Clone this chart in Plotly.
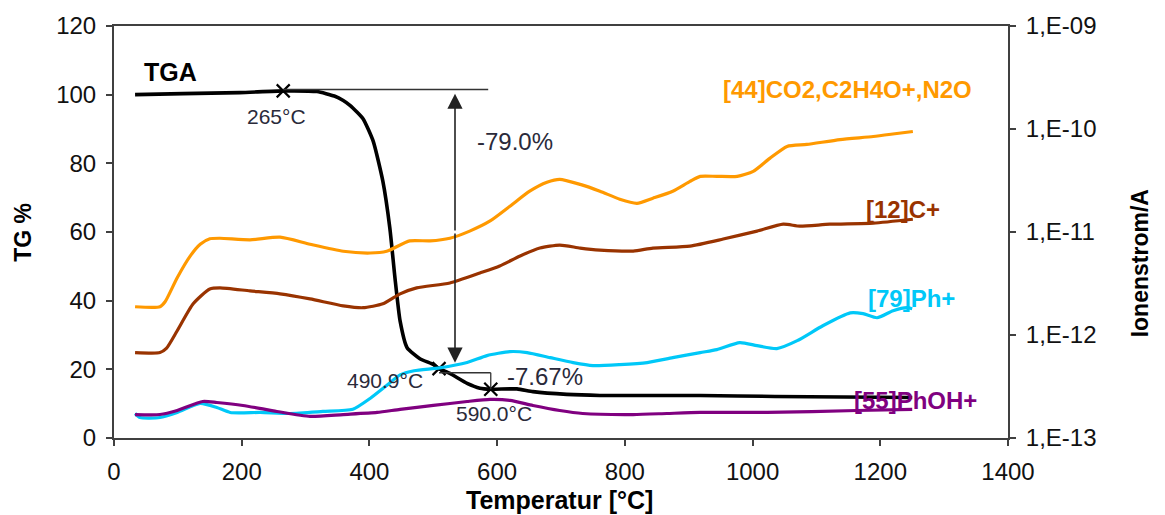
import plotly.graph_objects as go

# ---------------- data ----------------
TGA_T = [33, 108, 197, 265, 318, 345, 359, 370, 390, 406, 421, 432, 440, 448, 459, 479,
         500, 509, 526, 553, 573, 590, 631, 656, 709, 761, 918, 1035, 1250]
TGA_V = [100.0, 100.3, 100.6, 101.1, 100.9, 99.6, 98.3, 96.8, 93.0, 86.4, 74.8, 61.1, 46.6,
         34.1, 26.3, 23.1, 21.4, 20.2, 18.8, 15.9, 14.5, 14.2, 14.3, 13.5, 12.7, 12.4,
         12.4, 12.1, 11.8]

CO2_T = [33, 72, 80, 99, 119, 135, 150, 166, 213, 260, 307, 359, 401, 427, 463, 495, 526,
         557, 589, 620, 651, 678, 698, 730, 761, 792, 819, 844, 875, 902, 918, 944,
         976, 1001, 1027, 1054, 1085, 1137, 1189, 1226, 1251]
CO2_V = [1.88e-12, 1.88e-12, 2.1e-12, 3.6e-12, 5.8e-12, 7.6e-12, 8.6e-12, 8.7e-12, 8.4e-12,
         8.9e-12, 7.6e-12, 6.5e-12, 6.25e-12, 6.5e-12, 8.2e-12, 8.2e-12, 8.7e-12,
         1.02e-11, 1.28e-11, 1.78e-11, 2.49e-11, 3.04e-11, 3.25e-11, 2.9e-11,
         2.49e-11, 2.08e-11, 1.9e-11, 2.13e-11, 2.49e-11, 3.1e-11, 3.47e-11,
         3.47e-11, 3.47e-11, 3.88e-11, 5.19e-11, 6.78e-11, 7.08e-11, 7.9e-11,
         8.45e-11, 9.04e-11, 9.46e-11]

C12_T = [33, 72, 82, 99, 124, 150, 166, 213, 260, 307, 359, 390, 421, 448, 474, 526, 573,
         604, 636, 667, 698, 730, 761, 813, 844, 902, 954, 1007, 1048, 1074, 1121,
         1189, 1251]
C12_V = [6.75e-13, 6.75e-13, 7.4e-13, 1.1e-12, 2.01e-12, 2.8e-12, 2.87e-12, 2.68e-12,
         2.51e-12, 2.24e-12, 1.92e-12, 1.84e-12, 2.01e-12, 2.51e-12, 2.87e-12, 3.2e-12,
         4.0e-12, 4.68e-12, 5.85e-12, 6.98e-12, 7.46e-12, 6.98e-12, 6.68e-12, 6.53e-12,
         6.98e-12, 7.3e-12, 8.54e-12, 1.02e-11, 1.19e-11, 1.14e-11, 1.19e-11,
         1.22e-11, 1.33e-11]

PH_T = [33, 41, 72, 99, 135, 161, 182, 229, 276, 327, 374, 401, 427, 448, 470, 510, 553,
        584, 620, 647, 683, 719, 750, 792, 835, 875, 918, 944, 980, 1007, 1038, 1070,
        1110, 1153, 1173, 1195, 1220, 1242, 1250]
PH_V = [1.73e-13, 1.58e-13, 1.58e-13, 1.77e-13, 2.17e-13, 1.98e-13, 1.77e-13, 1.77e-13,
        1.73e-13, 1.81e-13, 1.9e-13, 2.42e-13, 3.24e-13, 4.1e-13, 4.5e-13, 4.8e-13,
        5.4e-13, 6.31e-13, 6.9e-13, 6.75e-13, 6.03e-13, 5.4e-13, 5.05e-13, 5.16e-13,
        5.4e-13, 6.03e-13, 6.75e-13, 7.21e-13, 8.43e-13, 7.88e-13, 7.38e-13, 8.81e-13,
        1.23e-12, 1.64e-12, 1.61e-12, 1.47e-12, 1.72e-12, 1.84e-12, 1.8e-12]

PHOH_T = [33, 72, 99, 139, 161, 202, 255, 307, 359, 412, 448, 500, 553, 589, 620, 656,
          698, 734, 813, 866, 918, 1023, 1163, 1250]
PHOH_V = [1.69e-13, 1.69e-13, 1.85e-13, 2.26e-13, 2.21e-13, 2.07e-13, 1.81e-13,
          1.62e-13, 1.69e-13, 1.77e-13, 1.9e-13, 2.07e-13, 2.26e-13, 2.37e-13,
          2.32e-13, 2.07e-13, 1.85e-13, 1.73e-13, 1.69e-13, 1.73e-13, 1.77e-13,
          1.77e-13, 1.85e-13, 1.9e-13]

X_TICKS = [0, 200, 400, 600, 800, 1000, 1200, 1400]
Y_TICKS = [0, 20, 40, 60, 80, 100, 120]
Y2_TICKS = [1e-13, 1e-12, 1e-11, 1e-10, 1e-9]
Y2_TICKTEXT = ["1,E-13", "1,E-12", "1,E-11", "1,E-10", "1,E-09"]

# evaluation marks (onset / step points)
CROSS_T = [265, 509, 590]
CROSS_TG = [101.1, 20.2, 14.2]
CROSS_LABELS = ["265°C", "490.9°C", "590.0°C"]
STEP1_TEXT = "-79.0%"
STEP2_TEXT = "-7.67%"

SERIES = [
    ("[44]CO2,C2H4O+,N2O", CO2_T, CO2_V, "#FF9900"),
    ("[12]C+", C12_T, C12_V, "#993300"),
    ("[79]Ph+", PH_T, PH_V, "#00C8F8"),
    ("[55]PhOH+", PHOH_T, PHOH_V, "#800080"),
]

FONT = "Liberation Sans, Arial, sans-serif"

fig = go.Figure()
for name, t, v, col in SERIES:
    fig.add_trace(go.Scatter(x=t, y=v, yaxis="y2", mode="lines", name=name,
                             line=dict(color=col, width=3.2, shape="spline", smoothing=0.6)))

fig.add_trace(go.Scatter(x=TGA_T, y=TGA_V, mode="lines", name="TGA",
                         line=dict(color="black", width=3.6, shape="spline", smoothing=0.5)))

fig.add_trace(go.Scatter(x=CROSS_T, y=CROSS_TG, mode="markers",
                         marker=dict(symbol="x-thin", size=13, line=dict(color="black", width=2.2))))

# thin evaluation lines
line_style = dict(color="#333333", width=1.3)
fig.add_shape(type="line", x0=CROSS_T[0], x1=586, y0=CROSS_TG[0] + 0.4, y1=CROSS_TG[0] + 0.4,
              xref="x", yref="y", line=line_style)
fig.add_shape(type="line", x0=CROSS_T[1], x1=CROSS_T[2], y0=19.0, y1=19.0,
              xref="x", yref="y", line=line_style)
fig.add_shape(type="line", x0=CROSS_T[2], x1=CROSS_T[2], y0=19.0, y1=CROSS_TG[2],
              xref="x", yref="y", line=line_style)

annotations = []
# double arrow for -79%
for (ya, yb) in [(100.3, 60), (21.9, 60)]:
    annotations.append(dict(x=534, y=ya, ax=534, ay=yb, xref="x", yref="y", axref="x", ayref="y",
                            text="", showarrow=True, arrowhead=2, arrowsize=1.9, arrowwidth=1.6,
                            arrowcolor="#222222"))

txt_font = dict(family=FONT, size=21, color="#2a2a3a")
big_font = dict(family=FONT, size=24, color="#2a2a3a")
annotations += [
    dict(x=255, y=93.5, text=CROSS_LABELS[0], showarrow=False, font=txt_font),
    dict(x=424, y=16.7, text=CROSS_LABELS[1], showarrow=False, font=txt_font),
    dict(x=595, y=7.2, text=CROSS_LABELS[2], showarrow=False, font=txt_font),
    dict(x=628, y=86.3, text=STEP1_TEXT, showarrow=False, font=big_font),
    dict(x=675, y=17.9, text=STEP2_TEXT, showarrow=False, font=big_font),
    dict(x=88, y=106.6, text="<b>TGA</b>", showarrow=False, font=dict(family=FONT, size=25, color="black")),
]
label_pos = [(950, 101.6), (1175, 66.6), (1177, 40.5), (1156, 10.9)]
for (name, t, v, col), (lx, ly) in zip(SERIES, label_pos):
    annotations.append(dict(x=lx, y=ly, text="<b>" + name + "</b>", showarrow=False, xanchor="left",
                            font=dict(family=FONT, size=24, color=col)))

# axis titles
annotations += [
    dict(x=-0.102, y=0.5, xref="paper", yref="paper", text="<b>TG %</b>", textangle=-90,
         xanchor="center", yanchor="middle",
         showarrow=False, font=dict(family=FONT, size=23, color="black")),
    dict(x=1.1477, y=0.424, xref="paper", yref="paper", text="<b>Ionenstrom/A</b>", textangle=-90,
         xanchor="center", yanchor="middle",
         showarrow=False, font=dict(family=FONT, size=23, color="black")),
    dict(x=0.498, y=-0.15, xref="paper", yref="paper", text="<b>Temperatur [°C]</b>",
         xanchor="center", yanchor="middle",
         showarrow=False, font=dict(family=FONT, size=25, color="black")),
]

axis_common = dict(showgrid=False, zeroline=False, showline=True, linecolor="#404040", linewidth=2,
                   ticks="outside", ticklen=6, tickwidth=1.5, tickcolor="#404040",
                   ticklabelstandoff=5,
                   tickfont=dict(family=FONT, size=24, color="#111111"))

fig.update_layout(
    width=1165, height=515,
    margin=dict(l=114, r=157, t=24, b=77),
    paper_bgcolor="white", plot_bgcolor="white",
    showlegend=False,
    xaxis=dict(range=[0, 1400], tickvals=X_TICKS, mirror=True, **axis_common),
    yaxis=dict(range=[0, 120], tickvals=Y_TICKS, **axis_common),
    yaxis2=dict(type="log", range=[-13, -9], overlaying="y", side="right",
                tickvals=Y2_TICKS, ticktext=Y2_TICKTEXT, **axis_common),
    annotations=annotations,
)

fig.write_html("out.html")
